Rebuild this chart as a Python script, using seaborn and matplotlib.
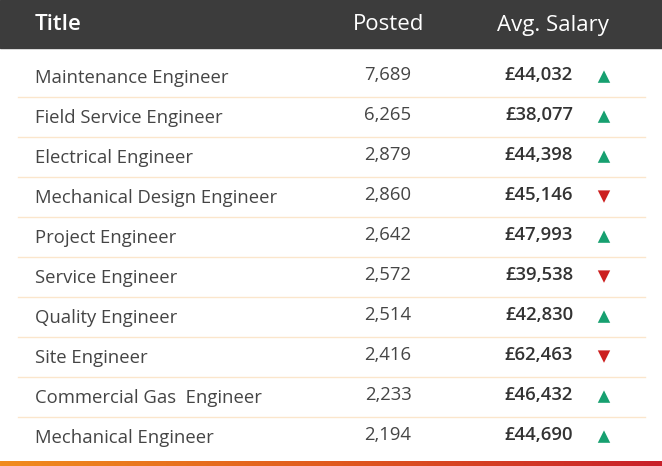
import matplotlib
matplotlib.use("Agg")
import matplotlib.pyplot as plt
import seaborn as sns
import numpy as np
import pandas as pd
from matplotlib.patches import Rectangle

titles = ["Maintenance Engineer", "Field Service Engineer", "Electrical Engineer",
          "Mechanical Design Engineer", "Project Engineer", "Service Engineer",
          "Quality Engineer", "Site Engineer", "Commercial Gas  Engineer", "Mechanical Engineer"]
posted = [7689, 6265, 2879, 2860, 2642, 2572, 2514, 2416, 2233, 2194]
salary = [44032, 38077, 44398, 45146, 47993, 39538, 42830, 62463, 46432, 44690]
trend = ["up", "up", "up", "down", "up", "down", "up", "down", "up", "up"]
headers = ["Title", "Posted", "Avg. Salary"]

font = "Open Sans"
fig = plt.figure(figsize=(6.62, 4.66), dpi=100)
ax = fig.add_axes([0, 0, 1, 1])
YL = ((466 - 77) / 40, -77 / 40)

hdr_top = -77 / 40
ax.add_patch(Rectangle((0, hdr_top), 662, 48 / 40, color="#3c3c3c", zorder=1))
hy = hdr_top + 25 / 40
ax.text(35, hy, headers[0], color="white", fontsize=16, family=font, va="center", ha="left", fontweight="semibold")
ax.text(389, hy, headers[1], color="white", fontsize=16, family=font, va="center", ha="center")
ax.text(553, hy, headers[2], color="white", fontsize=16, family=font, va="center", ha="center")

rows = np.arange(len(titles))
for i in rows:
    ax.text(35, i + 0.02, titles[i], fontsize=13.3, family=font, color="#454545", va="center", ha="left")
    ax.text(388, i - 0.04, f"{posted[i]:,}", fontsize=13.3, family=font, color="#454545", va="center", ha="center")
    ax.text(573, i - 0.04, f"£{salary[i]:,}", fontsize=13.3, family=font, color="#333333",
            va="center", ha="right", fontweight="semibold")
    if i < len(titles) - 1:
        ax.plot([18, 645], [i + 0.5, i + 0.5], color="#fbe6cc", lw=1, zorder=0)

df = pd.DataFrame({"x": 604, "y": rows - 0.01, "trend": trend})
sns.scatterplot(data=df, x="x", y="y", hue="trend", style="trend",
                markers={"up": "^", "down": "v"},
                palette={"up": "#17a070", "down": "#cc1f1f"},
                s=80, linewidth=0, legend=False, ax=ax)

grad = np.linspace(0, 1, 256).reshape(1, -1)
cmap = matplotlib.colors.LinearSegmentedColormap.from_list("g", ["#f08c1e", "#e05a1e", "#c8202a"])
ax.imshow(grad, aspect="auto", cmap=cmap, extent=(0, 662, YL[0], (461 - 77) / 40), zorder=3)
ax.set_xlim(0, 662)
ax.set_ylim(*YL)
ax.axis("off")

fig.savefig("out.png", dpi=100)
